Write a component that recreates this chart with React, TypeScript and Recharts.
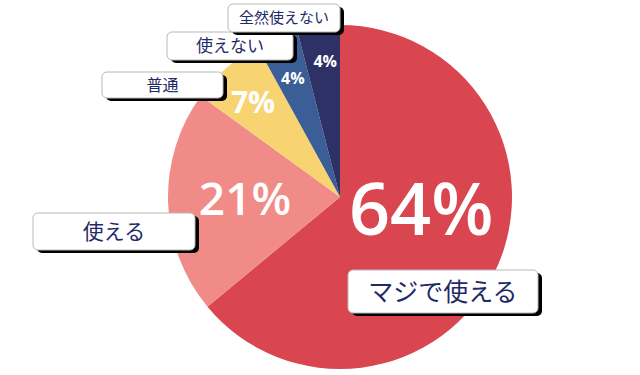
import React from 'react'
import { PieChart, Pie, Cell } from 'recharts'

const answers = ['マジで使える', '使える', '普通', '使えない', '全然使えない']
const shares = [64, 21, 7, 4, 4]
const colors = ['#d9464f', '#f08b88', '#f8d372', '#3b5e96', '#2e3166']

// label layout per slice: percent text (radius, angle tweak, size) and callout box
const pctStyle = [
  { r: 82, turn: 17, size: 72, weight: 600 },
  { r: 95, turn: -1, size: 46, weight: 600 },
  { r: 129, turn: 1, size: 30, weight: 700 },
  { r: 128, turn: 0, size: 16, weight: 700 },
  { r: 137, turn: -1, size: 16, weight: 700 },
]
const boxStyle = [
  { x: 348, y: 270, w: 190, h: 43, size: 25 },
  { x: 33, y: 213, w: 162, h: 37, size: 21 },
  { x: 102, y: 72, w: 121, h: 26, size: 16 },
  { x: 167, y: 32, w: 126, h: 28, size: 17 },
  { x: 228, y: 4, w: 112, h: 28, size: 15 },
]

const data = answers.map((name, i) => ({ name, value: shares[i] }))

const RAD = Math.PI / 180

function renderLabel(props: any) {
  const { cx, cy, midAngle, index, value, name } = props
  const p = pctStyle[index]
  const a = (midAngle + p.turn) * RAD
  const x = cx + p.r * Math.cos(a)
  const y = cy - p.r * Math.sin(a)
  const b = boxStyle[index]
  return (
    <g key={'lbl' + index}>
      <text
        x={x}
        y={y + p.size * 0.36}
        textAnchor="middle"
        fill="#ffffff"
        fontFamily="'Open Sans', sans-serif"
        fontWeight={p.weight}
        fontSize={p.size}
      >
        {value}%
      </text>
      <rect x={b.x + 4} y={b.y + 3} width={b.w} height={b.h} rx={5} fill="#000" />
      <rect x={b.x} y={b.y} width={b.w} height={b.h} rx={5} fill="#fff" stroke="#b8b8b8" strokeWidth={1} />
      <text
        x={b.x + b.w / 2}
        y={b.y + b.h / 2 + b.size * 0.36}
        textAnchor="middle"
        fill="#1f2a68"
        fontFamily="'Noto Sans CJK JP', sans-serif"
        fontSize={b.size}
      >
        {name}
      </text>
    </g>
  )
}

export default function App() {
  return (
    <div style={{ position: 'absolute', left: 0, top: 0, width: 640, height: 375, background: '#fff' }}>
      <PieChart width={640} height={375} margin={{ top: 0, right: 0, bottom: 0, left: 0 }}>
        <Pie
          data={data}
          dataKey="value"
          nameKey="name"
          cx={340}
          cy={197}
          outerRadius={172}
          startAngle={90}
          endAngle={-270}
          stroke="none"
          label={renderLabel}
          labelLine={false}
          isAnimationActive={false}
        >
          {data.map((_, i) => <Cell key={i} fill={colors[i]} />)}
        </Pie>
      </PieChart>
    </div>
  )
}
